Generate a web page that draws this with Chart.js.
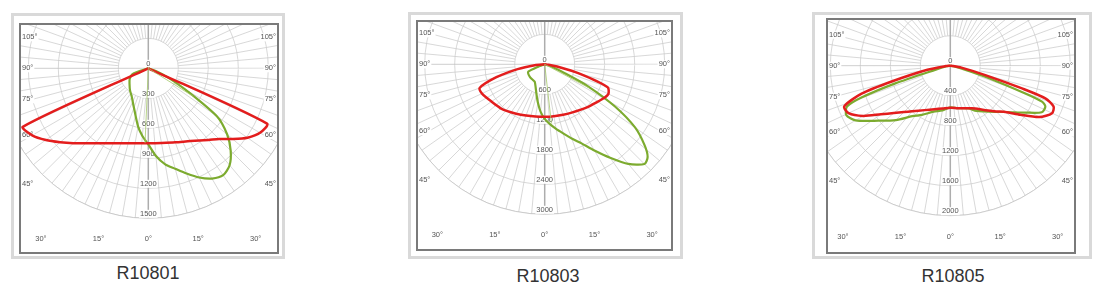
<!DOCTYPE html>
<html>
<head>
<meta charset="utf-8">
<script src="https://cdn.jsdelivr.net/npm/chart.js@4/dist/chart.umd.min.js"></script>
<style>
  body { margin: 0; background: #fff; width: 1104px; height: 302px; position: relative; overflow: hidden; font-family: "Liberation Sans", Arial, sans-serif; }
  .frame { position: absolute; border: 3px solid #d9d9d9; box-sizing: border-box; }
  .box { position: absolute; border: 2px solid #7a7a7a; box-sizing: border-box; background: #fff; }
  .box canvas { display: block; }
  .cap { position: absolute; font-size: 18px; line-height: 18px; color: #333; transform: translateX(-50%); white-space: nowrap; }
</style>
</head>
<body>
<div class="frame" style="left:11px;top:13px;width:274px;height:246px"></div>
<div class="box" style="left:19px;top:23px;width:260px;height:231px"><canvas id="c1" width="256" height="227"></canvas></div>
<div class="cap" style="left:148px;top:264px">R10801</div>

<div class="frame" style="left:408px;top:12px;width:275px;height:247px"></div>
<div class="box" style="left:416px;top:20px;width:257px;height:231px"><canvas id="c2" width="253" height="227"></canvas></div>
<div class="cap" style="left:548px;top:267px">R10803</div>

<div class="frame" style="left:812px;top:12px;width:280px;height:247px"></div>
<div class="box" style="left:826px;top:18px;width:250px;height:236px"><canvas id="c3" width="246" height="232"></canvas></div>
<div class="cap" style="left:953px;top:267px">R10805</div>

<script>
// polar data: signed angle from nadir (negative = left half), intensity in cd
const r10801RedAng = [-70, -65, -60, -55, -50, -45, -40, -30, -20, -10, 0, 10, 20, 30, 40, 45, 50, 55, 60, 65, 70];
const r10801RedCd  = [0, 1385, 1340, 1250, 1150, 1060, 980, 866, 798, 762, 750, 758, 788, 840, 935, 1000, 1100, 1210, 1290, 1310, 0];
const r10801GreenAng = [-80, -70, -60, -50, -40, -30, -20, -10, -5, 0, 5, 10, 15, 20, 25, 30, 35, 40, 45, 50, 55, 60, 65, 70, 80];
const r10801GreenCd  = [0, 170, 215, 245, 285, 330, 420, 590, 680, 760, 880, 975, 1040, 1120, 1205, 1273, 1305, 1265, 1165, 1030, 840, 440, 220, 80, 0];
const r10801ThinAng = [-2.5, 58];
const r10801ThinCd  = [750, 530];

const r10803RedAng = [-90, -85, -80, -75, -70, -65, -60, -55, -50, -45, -40, -30, -20, -10, 0, 10, 20, 30, 40, 45, 50, 55, 60, 65, 70, 75, 80, 85, 90];
const r10803RedCd  = [0, 200, 550, 1000, 1385, 1385, 1340, 1300, 1270, 1245, 1210, 1140, 1090, 1060, 1050, 1055, 1075, 1110, 1170, 1210, 1250, 1300, 1360, 1405, 1340, 720, 250, 80, 0];
const r10803GreenAng = [-90, -75, -70, -66, -60, -50, -40, -30, -20, -15, -10, -5, 0, 5, 10, 15, 20, 25, 30, 35, 40, 45, 48, 51, 55, 59, 63, 66, 70, 80];
const r10803GreenCd  = [0, 30, 120, 360, 380, 388, 392, 400, 520, 630, 780, 950, 1090, 1200, 1310, 1430, 1580, 1745, 1990, 2280, 2600, 2820, 2770, 2570, 2210, 1640, 980, 440, 150, 0];
const r10803ThinAng = [6.5, 62];
const r10803ThinCd  = [1190, 1000];

const r10805RedAng = [-90, -85, -80, -75, -72.5, -69, -65, -60, -55, -50, -45, -40, -30, -20, -10, 0, 10, 20, 27, 30, 40, 45, 50, 55, 60, 65, 68.4, 71, 72.4, 75, 80, 85, 90];
const r10805RedCd  = [0, 60, 310, 800, 1240, 1515, 1497, 1340, 1129, 982, 875, 794, 684, 617, 578, 560, 575, 605, 638, 660, 780, 862, 960, 1140, 1370, 1497, 1481, 1340, 1003, 483, 150, 30, 0];
const r10805GreenAng = [-90, -80, -75, -72.2, -70.3, -68.4, -64.6, -60, -52.5, -45, -37, -30, -20, -10, 0, 10, 23, 30, 44, 50, 58, 63, 66.7, 68.6, 69.7, 72.6, 75, 80, 90];
const r10805GreenCd  = [0, 60, 200, 770, 1251, 1481, 1535, 1459, 1205, 1026, 843, 757, 652, 604, 556, 575, 619, 695, 858, 960, 1180, 1368, 1380, 1313, 1066, 489, 200, 40, 0];

// ring tick labels (cd)
const r10801Rings = [0, 300, 600, 900, 1200, 1500];
const r10803Rings = [0, 600, 1200, 1800, 2400, 3000];
const r10805Rings = [0, 400, 800, 1200, 1600, 2000];

const sideAngles = [105, 90, 75, 60, 45];
const bottomAngles = [-30, -15, 0, 15, 30];

const RING_PX = 30;

function toXY(ang, cd) {
  return ang.map((a, i) => {
    const t = a * Math.PI / 180;
    return { x: cd[i] * Math.sin(t), y: -cd[i] * Math.cos(t) };
  });
}

const polarGrid = {
  id: 'polarGrid',
  beforeDatasetsDraw(chart, args, opts) {
    const { ctx, chartArea: ca } = chart;
    const xs = chart.scales.x, ys = chart.scales.y;
    const cx = xs.getPixelForValue(0), cy = ys.getPixelForValue(0);
    const rings = opts.rings;
    const step = xs.getPixelForValue(rings[1]) - cx;
    const rMax = step * (rings.length - 1);
    ctx.save();
    ctx.beginPath();
    ctx.rect(ca.left, ca.top, ca.right - ca.left, ca.bottom - ca.top);
    ctx.clip();
    ctx.strokeStyle = '#cbcbcb';
    ctx.lineWidth = 0.75;
    for (let k = 1; k < rings.length; k++) {
      ctx.beginPath();
      ctx.arc(cx, cy, step * k, 0, Math.PI * 2);
      ctx.stroke();
    }
    for (let a = 0; a < 360; a += 5) {
      if (a % 90 === 0) continue;
      const t = a * Math.PI / 180;
      ctx.beginPath();
      ctx.moveTo(cx + step * Math.sin(t), cy + step * Math.cos(t));
      ctx.lineTo(cx + rMax * 1.6 * Math.sin(t), cy + rMax * 1.6 * Math.cos(t));
      ctx.stroke();
    }
    // horizontal through centre
    ctx.strokeStyle = '#bdbdbd';
    ctx.beginPath();
    ctx.moveTo(ca.left, cy);
    ctx.lineTo(ca.right, cy);
    ctx.stroke();
    // vertical through centre
    ctx.strokeStyle = '#adadad';
    ctx.lineWidth = 1.5;
    ctx.beginPath();
    ctx.moveTo(cx, ca.top);
    ctx.lineTo(cx, cy + rMax);
    ctx.stroke();

    // clear outside the outer ring below the horizontal
    ctx.fillStyle = '#fff';
    ctx.beginPath();
    ctx.rect(ca.left, cy + 1, ca.right - ca.left, ca.bottom - cy);
    ctx.arc(cx, cy, rMax, 0, Math.PI, false);
    ctx.fill('evenodd');
    ctx.strokeStyle = '#c4c4c4';
    ctx.lineWidth = 0.8;
    ctx.beginPath();
    ctx.arc(cx, cy, rMax, 0, Math.PI * 2);
    ctx.stroke();

    ctx.font = '7.5px "Liberation Sans", Arial, sans-serif';
    ctx.textBaseline = 'middle';
    const label = (txt, x, y, align) => {
      ctx.textAlign = align;
      const w = ctx.measureText(txt).width;
      const lx = align === 'left' ? x : align === 'right' ? x - w : x - w / 2;
      ctx.fillStyle = '#fff';
      ctx.fillRect(lx - 1, y - 4, w + 2, 8);
      ctx.fillStyle = '#555';
      ctx.fillText(txt, x, y);
    };
    rings.forEach((v, k) => label(String(v), cx, cy + step * k - 4.5, 'center'));
    sideAngles.forEach(a => {
      const y = a === 90 ? cy : cy + 3.85 * RING_PX * Math.cos(a * Math.PI / 180) / Math.sin(a * Math.PI / 180);
      label(a + '°', ca.left + 1, y, 'left');
      label(a + '°', ca.right - 1, y, 'right');
    });
    bottomAngles.forEach(a => {
      label(Math.abs(a) + '°', cx + 6.2 * RING_PX * Math.tan(a * Math.PI / 180), cy + 5.7 * RING_PX, 'center');
    });
    ctx.restore();
  }
};

function makeChart(id, cx, cy, rings, redAng, redCd, greenAng, greenCd, thinAng, thinCd) {
  const canvas = document.getElementById(id);
  const w = canvas.width, h = canvas.height;
  const ppc = RING_PX / rings[1];
  const datasets = [];
  (thinAng || []).forEach((a, i) => {
    datasets.push({
      data: toXY([0, a], [0, thinCd[i]]),
      showLine: true, pointRadius: 0, borderColor: '#a4c86a', borderWidth: 0.8, tension: 0
    });
  });
  datasets.push({
    data: toXY(redAng, redCd),
    showLine: true, pointRadius: 0, borderColor: '#e31d1d', borderWidth: 2.5, tension: 0.25
  });
  datasets.push({
    data: toXY(greenAng, greenCd),
    showLine: true, pointRadius: 0, borderColor: '#7cab2f', borderWidth: 2.2, tension: 0.25
  });
  return new Chart(canvas, {
    type: 'scatter',
    data: { datasets },
    options: {
      responsive: false,
      animation: false,
      events: [],
      layout: { padding: 0 },
      scales: {
        x: { type: 'linear', display: false, min: -cx / ppc, max: (w - cx) / ppc },
        y: { type: 'linear', display: false, min: -(h - cy) / ppc, max: cy / ppc }
      },
      plugins: {
        legend: { display: false },
        tooltip: { enabled: false },
        polarGrid: { rings }
      }
    },
    plugins: [polarGrid]
  });
}

makeChart('c1', 127.3, 43.3, r10801Rings, r10801RedAng, r10801RedCd, r10801GreenAng, r10801GreenCd, r10801ThinAng, r10801ThinCd);
makeChart('c2', 126.7, 42.3, r10803Rings, r10803RedAng, r10803RedCd, r10803GreenAng, r10803GreenCd, r10803ThinAng, r10803ThinCd);
makeChart('c3', 122.3, 45.7, r10805Rings, r10805RedAng, r10805RedCd, r10805GreenAng, r10805GreenCd);
</script>
</body>
</html>
